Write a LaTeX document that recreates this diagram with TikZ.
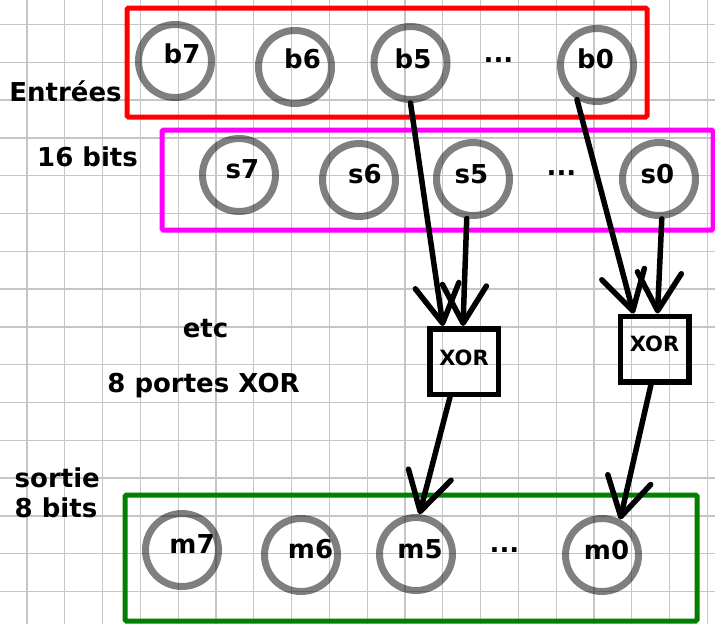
\documentclass[tikz,border=0pt]{standalone}
\usepackage{fontspec}
\setmainfont{DejaVu Sans}
\usetikzlibrary{arrows.meta,calc}
\definecolor{fred}{RGB}{255,0,0}
\definecolor{fmag}{RGB}{255,0,255}
\definecolor{fgreen}{RGB}{0,128,0}
\tikzset{
  gridline/.style={draw=gray!45, line width=1.3pt},
  frame/.style={line width=5pt, rounded corners=1.5pt},
  bit/.style={circle, draw=black, draw opacity=0.5, line width=7pt, minimum size=73pt, inner sep=0pt},
  lbl/.style={font=\bfseries\fontsize{26}{26}\selectfont, inner sep=0pt, anchor=base},
  lblw/.style={lbl, anchor=base west},
  xorbox/.style={draw, line width=5.5pt, minimum width=68.5pt, minimum height=65.5pt, inner sep=0pt, font=\bfseries\fontsize{21}{21}\selectfont},
  arr/.style={line width=5.5pt, line cap=round, line join=round, -{Straight Barb[length=38pt,width=44pt,round]}}
}
\begin{document}
\begin{tikzpicture}[x=1pt,y=-1pt]
\useasboundingbox (0,0) rectangle (715,624);
% grid
\foreach \i in {0,...,18} { \draw[gridline] (27+37.8*\i,0) -- (27+37.8*\i,624); }
\foreach \j in {0,...,15} { \draw[gridline] (0,24.5+37.8*\j) -- (715,24.5+37.8*\j); }
% frames
\draw[frame, draw=fred] (127,8) rectangle (647,117);
\draw[frame, draw=fmag] (162,130) rectangle (713,230);
\draw[frame, draw=fgreen] (125,495) rectangle (697,621);
% side labels
\node[lbl] (lin) at (65.5,101) {Entrées};
\node[lbl] (l16) at (87.5,166) {16 bits};
\node[lblw] (lso) at (14.5,487) {sortie};
\node[lblw] (l8b) at (14.5,517) {8 bits};
\node[lbl] (letc) at (205.5,337) {etc};
\node[lbl] (l8p) at (203.5,392) {8 portes XOR};
% input bits b
\node[bit] (b7) at (175,61) {};
\node[bit] (b6) at (295,67) {};
\node[bit] (b5) at (410.5,63) {};
\node[bit] (b0) at (597,65) {};
\node[lbl] (b7t) at (182,63) {b7};
\node[lbl] (b6t) at (302.5,68) {b6};
\node[lbl] (b5t) at (413,68) {b5};
\node[lbl] (bdt) at (498.5,62) {...};
\node[lbl] (b0t) at (595.5,68) {b0};
% input bits s
\node[bit] (s7) at (239,175) {};
\node[bit] (s6) at (359,180) {};
\node[bit] (s5) at (473,179) {};
\node[bit] (s0) at (659,179) {};
\node[lbl] (s7t) at (242.5,178) {s7};
\node[lbl] (s6t) at (365,183) {s6};
\node[lbl] (s5t) at (471.5,183) {s5};
\node[lbl] (sdt) at (561.5,175) {...};
\node[lbl] (s0t) at (657.5,183) {s0};
% output bits m
\node[bit] (m7) at (182,550) {};
\node[bit] (m6) at (301,555) {};
\node[bit] (m5) at (416,554) {};
\node[bit] (m0) at (602,555) {};
\node[lbl] (m7t) at (192,553) {m7};
\node[lbl] (m6t) at (310.5,558) {m6};
\node[lbl] (m5t) at (420,558) {m5};
\node[lbl] (mdt) at (504.5,552) {...};
\node[lbl] (m0t) at (606.5,559) {m0};
% XOR gates
\node[xorbox] (x1) at (464,361.5) {\raisebox{4pt}[\height][\depth]{XOR}};
\node[xorbox] (x2) at (654.5,349) {\raisebox{5pt}[\height][\depth]{XOR}};
% connectors
\draw[arr] (b5.south) -- ($(x1.north)+(-21,0)$);
\draw[arr] (s5.261) -- ($(x1.north)+(-1,0)$);
\draw[arr] (b0.240) -- ($(x2.north)+(-21,0)$);
\draw[arr] (s0.274) -- ($(x2.north)+(3,0)$);
\draw[arr] ($(x1.south)+(-14,0)$) -- (m5.85);
\draw[arr] ($(x2.south)+(-3.5,0)$) -- (m0.63);
\end{tikzpicture}
\end{document}
